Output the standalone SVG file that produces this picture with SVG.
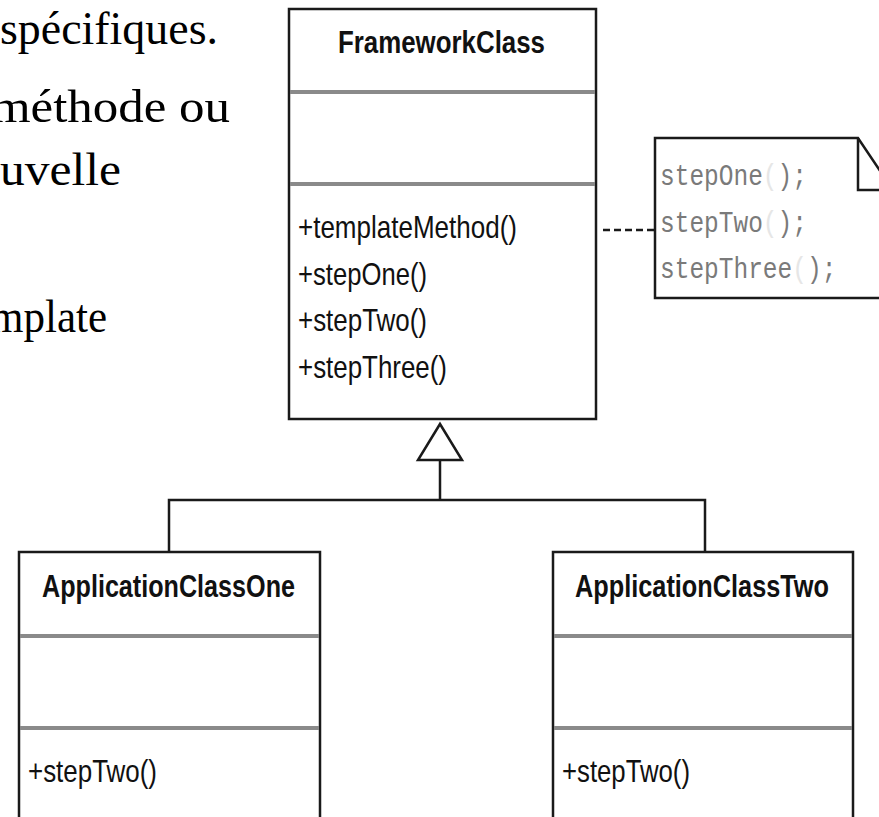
<svg xmlns="http://www.w3.org/2000/svg" width="879" height="817" viewBox="0 0 879 817">
  <style>
    .slide { font-family: "Liberation Serif", "DejaVu Serif", serif; font-size: 46px; fill: #000; }
    .box { fill: #fff; stroke: #1a1a1a; stroke-width: 2.5; }
    .div { stroke: #8a8a8a; stroke-width: 4; }
    .title { font-family: "Liberation Sans", Arial, sans-serif; font-weight: bold; font-size: 26px; fill: #111; }
    .op { font-family: "Liberation Sans", Arial, sans-serif; font-size: 26px; fill: #111; }
    .code { font-family: "Liberation Mono", "Courier New", monospace; font-size: 24.5px; fill: #7a7a7a; }
    .faint { fill: #e6e6e6; }
    .line { fill: none; stroke: #1a1a1a; stroke-width: 2.5; }
    .dash { fill: none; stroke: #1a1a1a; stroke-width: 2.5; stroke-dasharray: 7 4; }
  </style>
  <rect width="879" height="817" fill="#fff"/>

  <g id="slide-text">
    <text class="slide" x="0" y="44" textLength="218" lengthAdjust="spacingAndGlyphs">spécifiques.</text>
    <text class="slide" x="-9" y="122" textLength="239" lengthAdjust="spacingAndGlyphs">méthode ou</text>
    <text class="slide" x="0" y="185" textLength="121" lengthAdjust="spacingAndGlyphs">uvelle</text>
    <text class="slide" x="-10" y="332" textLength="117" lengthAdjust="spacingAndGlyphs">mplate</text>
  </g>

  <g id="connectors">
    <line class="dash" x1="603" y1="230" x2="655" y2="230"/>
    <polyline class="line" points="169,552 169,500 705,500 705,552"/>
    <line class="line" x1="440" y1="500" x2="440" y2="460"/>
    <polygon class="line" points="440,424 418,460 462,460" fill="#fff"/>
  </g>

  <g id="FrameworkClass">
    <rect class="box" x="289" y="9" width="307" height="410"/>
    <line class="div" x1="290" y1="92" x2="595" y2="92"/>
    <line class="div" x1="290" y1="184" x2="595" y2="184"/>
    <text class="title" transform="translate(338,53) scale(1,1.22)" textLength="207" lengthAdjust="spacingAndGlyphs">FrameworkClass</text>
    <text class="op" transform="translate(298,238) scale(1,1.22)" textLength="219" lengthAdjust="spacingAndGlyphs">+templateMethod()</text>
    <text class="op" transform="translate(298,285) scale(1,1.22)" textLength="129" lengthAdjust="spacingAndGlyphs">+stepOne()</text>
    <text class="op" transform="translate(298,331) scale(1,1.22)" textLength="129" lengthAdjust="spacingAndGlyphs">+stepTwo()</text>
    <text class="op" transform="translate(298,378) scale(1,1.22)" textLength="149" lengthAdjust="spacingAndGlyphs">+stepThree()</text>
  </g>

  <g id="note">
    <path class="box" d="M655,138 L858,138 L893,190 L893,298 L655,298 Z"/>
    <polyline class="line" points="858,138 858,190 893,190"/>
    <text class="code" transform="translate(660,185) scale(1,1.22)">stepOne<tspan class="faint">(</tspan>);</text>
    <text class="code" transform="translate(660,232) scale(1,1.22)">stepTwo<tspan class="faint">(</tspan>);</text>
    <text class="code" transform="translate(660,278) scale(1,1.22)">stepThree<tspan class="faint">(</tspan>);</text>
  </g>

  <g id="ApplicationClassOne">
    <rect class="box" x="19" y="552" width="301" height="290"/>
    <line class="div" x1="20" y1="636" x2="319" y2="636"/>
    <line class="div" x1="20" y1="728" x2="319" y2="728"/>
    <text class="title" transform="translate(42,597) scale(1,1.22)" textLength="253" lengthAdjust="spacingAndGlyphs">ApplicationClassOne</text>
    <text class="op" transform="translate(28,782) scale(1,1.22)" textLength="129" lengthAdjust="spacingAndGlyphs">+stepTwo()</text>
  </g>

  <g id="ApplicationClassTwo">
    <rect class="box" x="553" y="552" width="300" height="290"/>
    <line class="div" x1="554" y1="636" x2="852" y2="636"/>
    <line class="div" x1="554" y1="728" x2="852" y2="728"/>
    <text class="title" transform="translate(575,597) scale(1,1.22)" textLength="254" lengthAdjust="spacingAndGlyphs">ApplicationClassTwo</text>
    <text class="op" transform="translate(562,782) scale(1,1.22)" textLength="128" lengthAdjust="spacingAndGlyphs">+stepTwo()</text>
  </g>
</svg>
